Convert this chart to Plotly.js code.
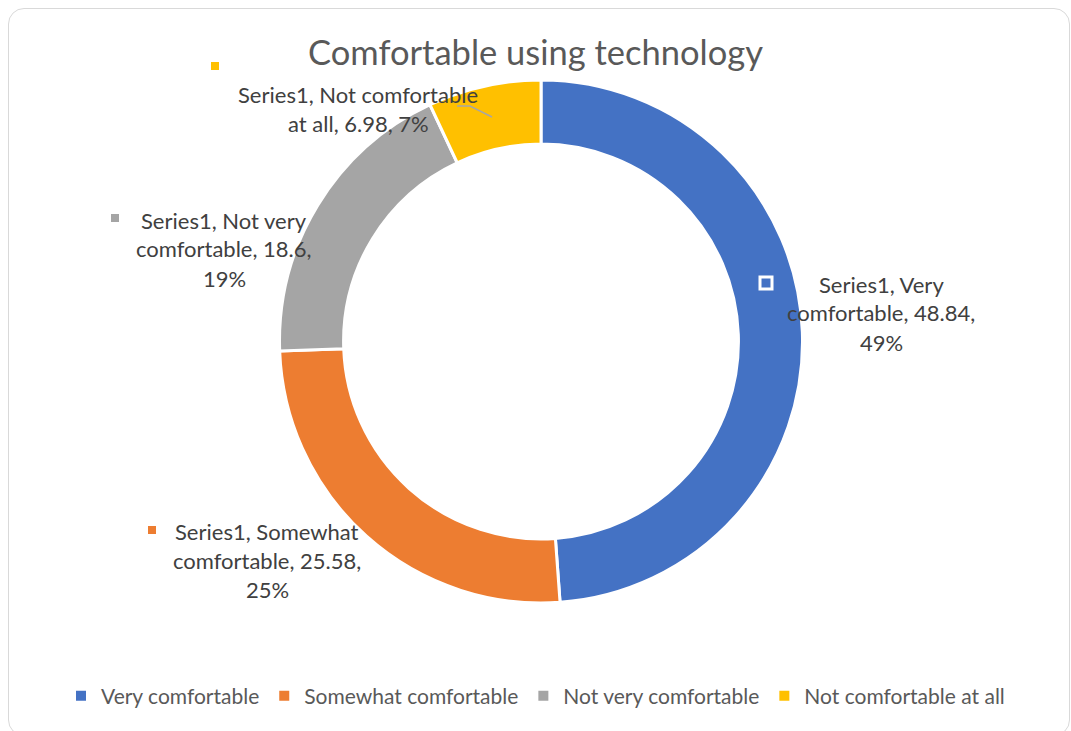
<!DOCTYPE html>
<html>
<head>
<meta charset="utf-8">
<script src="https://cdn.plot.ly/plotly-3.0.1.min.js"></script>
<style>
  html, body { margin: 0; padding: 0; background: #ffffff; }
  #chart { position: absolute; left: 0; top: 0; width: 1071px; height: 731px; }
  #frame { position: absolute; left: 8px; top: 8px; width: 1060px; height: 726px;
           border: 1.5px solid #d9d9d9; border-radius: 16px; pointer-events: none; }
</style>
</head>
<body>
<div id="chart"></div>
<div id="frame"></div>
<script>
// ---- data ----
const seriesName = "Series1";
const categories = ["Very comfortable", "Somewhat comfortable", "Not very comfortable", "Not comfortable at all"];
const values = [48.84, 25.58, 18.6, 6.98];
const pctLabels = ["49%", "25%", "19%", "7%"];
const colors = ["#4472C4", "#ED7D31", "#A5A5A5", "#FFC000"];

// ---- label layout (positions in pixels of the 1071x731 canvas) ----
const W = 1071, H = 731;
const labelLines = [
  [seriesName + ", Very", "comfortable, " + values[0] + ",", pctLabels[0]],
  [seriesName + ", Somewhat", "comfortable, " + values[1] + ",", pctLabels[1]],
  [seriesName + ", Not very", "comfortable, " + values[2] + ",", pctLabels[2]],
  [seriesName + ", Not comfortable", "at all, " + values[3] + ", " + pctLabels[3]]
];
const labelPos = [ {x: 881, y: 284}, {x: 267, y: 531}, {x: 224, y: 220}, {x: 358, y: 94} ];
const lineGap = 29;
const keyPos = [ {x: 766, y: 283}, {x: 152, y: 530}, {x: 115, y: 218}, {x: 215, y: 66} ];

const px = x => x / W;
const py = y => 1 - y / H;

const annotations = [];
labelLines.forEach((lines, i) => {
  lines.forEach((t, j) => {
    annotations.push({
      xref: "paper", yref: "paper",
      x: px(labelPos[i].x), y: py(labelPos[i].y + j * lineGap),
      xanchor: "center", yanchor: "middle",
      text: t, showarrow: false,
      font: {family: "Lato, 'Open Sans', sans-serif", size: 22, color: "#404040"}
    });
  });
});

const shapes = [];
keyPos.forEach((k, i) => {
  const s = i === 0 ? 6 : 4;
  shapes.push({
    type: "rect", xref: "paper", yref: "paper",
    x0: px(k.x - s), x1: px(k.x + s), y0: py(k.y + s), y1: py(k.y - s),
    fillcolor: colors[i],
    line: {color: i === 0 ? "#ffffff" : colors[i], width: i === 0 ? 3 : 0}
  });
});
// leader line for the small slice
shapes.push({
  type: "path", xref: "paper", yref: "paper",
  path: "M" + px(457) + "," + py(106) + " L" + px(470) + "," + py(106) + " L" + px(492) + "," + py(117),
  line: {color: "#A6A6A6", width: 1.5}
});

const trace = {
  type: "pie",
  labels: categories,
  values: values,
  hole: 0.755,
  sort: false,
  direction: "clockwise",
  rotation: 0,
  textinfo: "none",
  marker: {colors: colors, line: {color: "#ffffff", width: 3}},
  domain: {x: [0.2609, 0.7494], y: [py(603), py(80)]},
  hoverinfo: "label+value+percent"
};

const layout = {
  width: W, height: H,
  margin: {l: 0, r: 0, t: 0, b: 0},
  paper_bgcolor: "#ffffff",
  title: {
    text: "Comfortable using technology",
    font: {family: "Lato, 'Open Sans', sans-serif", size: 34.5, color: "#595959"},
    x: 0.5, xanchor: "center", y: py(53), yanchor: "middle", yref: "container"
  },
  showlegend: true,
  legend: {
    orientation: "h", x: 0.5, xanchor: "center", y: py(696), yanchor: "middle",
    font: {family: "Lato, 'Open Sans', sans-serif", size: 21, color: "#595959"},
    itemsizing: "constant", traceorder: "normal"
  },
  annotations: annotations,
  shapes: shapes
};

Plotly.newPlot("chart", [trace], layout, {displayModeBar: false, staticPlot: true});
</script>
</body>
</html>
